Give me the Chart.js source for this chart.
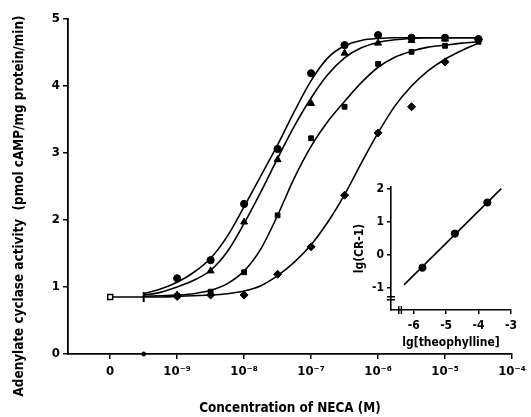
<!DOCTYPE html>
<html>
<head>
<meta charset="utf-8">
<script src="https://cdn.jsdelivr.net/npm/chart.js@4"></script>
<style>
  body { margin: 0; background: #fff; }
  #wrap { position: relative; width: 531px; height: 417px; }
  #mainChart { position: absolute; left: 0; top: 0; }
  #insetChart { position: absolute; left: 330px; top: 172px; }
</style>
</head>
<body>
<div id="wrap">
  <canvas id="mainChart" width="531" height="417"></canvas>
  <canvas id="insetChart" width="201" height="180"></canvas>
</div>
<script>
// x values are log10 of NECA concentration; -10 stands for "0" (no NECA)
const xTickValues = [-10, -9, -8, -7, -6, -5, -4];
const xTickLabels = ['0', '10⁻⁹', '10⁻⁸', '10⁻⁷', '10⁻⁶', '10⁻⁵', '10⁻⁴'];
const yTitle = 'Adenylate cyclase activity  (pmol cAMP/mg protein/min)';

const doseX = [-9, -8.5, -8, -7.5, -7, -6.5, -6, -5.5, -5, -4.5];
const circleY = [1.13, 1.40, 2.24, 3.06, 4.19, 4.61, 4.76, 4.72, 4.72, 4.70];
const triangleY = [0.88, 1.24, 1.97, 2.90, 3.74, 4.49, 4.64, 4.68, 4.70, 4.70];
const squareY = [0.87, 0.93, 1.22, 2.07, 3.22, 3.69, 4.33, 4.51, 4.60, 4.66];
const diamondY = [0.86, 0.88, 0.88, 1.19, 1.60, 2.37, 3.30, 3.69, 4.36, 4.69];

// fitted curves
const curveX = [-9.5, -9.25, -9, -8.75, -8.5, -8.25, -8, -7.75, -7.5, -7.25, -7,
                -6.75, -6.5, -6.25, -6, -5.75, -5.5, -5.25, -5, -4.75, -4.5];
const circleCurve = [0.90, 0.97, 1.07, 1.22, 1.43, 1.76, 2.20, 2.66, 3.12, 3.62, 4.08,
                     4.42, 4.60, 4.68, 4.71, 4.72, 4.72, 4.72, 4.72, 4.72, 4.72];
const triangleCurve = [0.88, 0.92, 1.00, 1.10, 1.25, 1.53, 1.95, 2.42, 2.92, 3.40, 3.82,
                       4.17, 4.42, 4.57, 4.65, 4.69, 4.71, 4.72, 4.72, 4.72, 4.72];
const squareCurve = [0.86, 0.87, 0.88, 0.90, 0.95, 1.05, 1.24, 1.57, 2.07, 2.63, 3.10,
                     3.47, 3.77, 4.05, 4.28, 4.43, 4.52, 4.58, 4.61, 4.64, 4.66];
const diamondCurve = [0.85, 0.85, 0.86, 0.87, 0.88, 0.90, 0.94, 1.02, 1.17, 1.37, 1.63,
                      1.97, 2.38, 2.85, 3.30, 3.70, 4.00, 4.23, 4.40, 4.53, 4.64];

const basalX = [-10, -9.5];
const basalY = [0.85, 0.85];

// inset: Schild plot
const theoX = [-5.73, -4.73, -3.73];
const schildY = [-0.39, 0.64, 1.58];
const schildLineX = [-6.3, -3.3];
const schildLineY = [-0.91, 2.0];

const fontFamily = "'DejaVu Sans Condensed', 'Liberation Sans Narrow', 'DejaVu Sans', sans-serif";

function pts(xs, ys) {
    return xs.map((x, i) => ({x: x, y: ys[i]}));
}

function curve(ys) {
    return {
        data: pts(curveX, ys),
        showLine: true,
        borderColor: '#000',
        borderWidth: 1.6,
        pointRadius: 0,
        cubicInterpolationMode: 'monotone',
        clip: false
    };
}

function markers(ys, style, r) {
    return {
        data: pts(doseX, ys),
        showLine: false,
        pointStyle: style,
        pointRadius: r,
        backgroundColor: '#000',
        borderColor: '#000',
        borderWidth: 1,
        clip: false
    };
}

// long rotated y title, placed like in the original figure
const yTitlePlugin = {
    id: 'yTitle',
    afterDraw(chart) {
        let c = chart.ctx;
        c.save();
        c.translate(20, 206);
        c.rotate(-Math.PI / 2);
        c.font = 'bold 13.4px ' + fontFamily;
        c.fillStyle = '#000';
        c.textAlign = 'center';
        c.textBaseline = 'middle';
        c.fillText(yTitle, 0, 0);
        c.restore();
    }
};

let mainCtx = document.getElementById('mainChart').getContext('2d');

let mainChart = new Chart(mainCtx, {
    type: 'scatter',
    data: {
        datasets: [
            curve(circleCurve),
            curve(triangleCurve),
            curve(squareCurve),
            curve(diamondCurve),
            {
                data: pts(basalX, basalY),
                showLine: true,
                borderColor: '#000',
                borderWidth: 1.6,
                backgroundColor: '#fff',
                pointStyle: ['rect', 'line'],
                pointRadius: [3.5, 5],
                pointRotation: [0, 90],
                pointBorderWidth: [1.5, 2],
                clip: false
            },
            {
                data: [{x: -9.5, y: 0}],
                pointRadius: 2,
                backgroundColor: '#000',
                borderColor: '#000',
                clip: false
            },
            markers(circleY, 'circle', 3.6),
            markers(triangleY, 'triangle', 4),
            markers(squareY, 'rect', 3.4),
            markers(diamondY, 'rectRot', 4)
        ]
    },
    plugins: [yTitlePlugin],
    options: {
        responsive: false,
        animation: false,
        layout: {
            padding: {left: 0, right: 19, top: 19, bottom: 0}
        },
        plugins: {
            legend: {display: false},
            tooltip: {enabled: false}
        },
        scales: {
            x: {
                type: 'linear',
                min: -10.63,
                max: -4,
                afterFit: (scale) => { scale.height = 63; },
                afterBuildTicks: (scale) => {
                    scale.ticks = xTickValues.map(v => ({value: v}));
                },
                ticks: {
                    color: '#000',
                    padding: 5,
                    maxRotation: 0,
                    autoSkip: false,
                    font: {family: fontFamily, size: 13, weight: 'bold'},
                    callback: (v) => {
                        let i = xTickValues.indexOf(v);
                        return i >= 0 ? xTickLabels[i] : '';
                    }
                },
                grid: {
                    drawOnChartArea: false,
                    drawTicks: true,
                    tickLength: 5,
                    color: '#000',
                    lineWidth: 1.5
                },
                border: {color: '#000', width: 1.8},
                title: {
                    display: true,
                    text: 'Concentration of NECA (M)',
                    color: '#000',
                    padding: {top: 0, bottom: 0},
                    font: {family: fontFamily, size: 13.4, weight: 'bold'}
                }
            },
            y: {
                min: 0,
                max: 5,
                afterFit: (scale) => { scale.width = 68; },
                ticks: {
                    stepSize: 1,
                    color: '#000',
                    padding: 3,
                    font: {family: fontFamily, size: 13, weight: 'bold'}
                },
                grid: {
                    drawOnChartArea: false,
                    drawTicks: true,
                    tickLength: 5,
                    color: '#000',
                    lineWidth: 1.5
                },
                border: {color: '#000', width: 1.8}
            }
        }
    }
});

let insetCtx = document.getElementById('insetChart').getContext('2d');

let insetChart = new Chart(insetCtx, {
    type: 'scatter',
    data: {
        datasets: [
            {
                data: pts(schildLineX, schildLineY),
                showLine: true,
                borderColor: '#000',
                borderWidth: 1.6,
                pointRadius: 0,
                clip: false
            },
            {
                data: pts(theoX, schildY),
                pointRadius: 3.6,
                backgroundColor: '#000',
                borderColor: '#000',
                clip: false
            },
            // axis break marks
            {
                data: [{x: -6.7, y: -1.27}, {x: -6.7, y: -1.36}],
                pointStyle: 'line',
                pointRadius: 4,
                borderColor: '#000',
                pointBorderWidth: 1.5,
                clip: false
            },
            {
                data: [{x: -6.46, y: -1.67}, {x: -6.38, y: -1.67}],
                pointStyle: 'line',
                pointRotation: 90,
                pointRadius: 4,
                borderColor: '#000',
                pointBorderWidth: 1.5,
                clip: false
            }
        ]
    },
    options: {
        responsive: false,
        animation: false,
        layout: {
            padding: {left: 0, right: 20, top: 15, bottom: 0}
        },
        plugins: {
            legend: {display: false},
            tooltip: {enabled: false}
        },
        scales: {
            x: {
                type: 'linear',
                min: -6.7,
                max: -3,
                afterFit: (scale) => { scale.height = 42; },
                afterBuildTicks: (scale) => {
                    scale.ticks = [-6, -5, -4, -3].map(v => ({value: v}));
                },
                ticks: {
                    color: '#000',
                    padding: 5,
                    maxRotation: 0,
                    font: {family: fontFamily, size: 12, weight: 'bold'}
                },
                grid: {
                    drawOnChartArea: false,
                    tickLength: 4,
                    color: '#000',
                    lineWidth: 1.5
                },
                border: {color: '#000', width: 1.6},
                title: {
                    display: true,
                    text: 'lg[theophylline]',
                    color: '#000',
                    padding: {top: 0, bottom: 2},
                    font: {family: fontFamily, size: 12, weight: 'bold'}
                }
            },
            y: {
                min: -1.67,
                max: 2.05,
                afterFit: (scale) => { scale.width = 61; },
                afterBuildTicks: (scale) => {
                    scale.ticks = [-1, 0, 1, 2].map(v => ({value: v}));
                },
                ticks: {
                    color: '#000',
                    padding: 3,
                    font: {family: fontFamily, size: 12, weight: 'bold'}
                },
                grid: {
                    drawOnChartArea: false,
                    tickLength: 4,
                    color: '#000',
                    lineWidth: 1.5
                },
                border: {color: '#000', width: 1.6},
                title: {
                    display: true,
                    text: 'lg(CR-1)',
                    color: '#000',
                    padding: {top: 23, bottom: 0},
                    font: {family: fontFamily, size: 12, weight: 'bold'}
                }
            }
        }
    }
});
</script>
</body>
</html>
